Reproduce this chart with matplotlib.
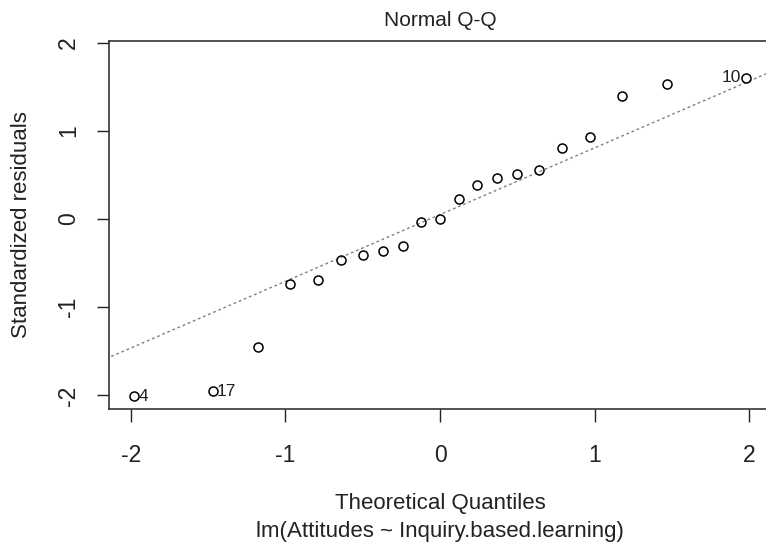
import matplotlib
matplotlib.use("Agg")
import matplotlib.pyplot as plt
import numpy as np

plt.rcParams['font.family'] = ['Liberation Sans', 'DejaVu Sans']
plt.rcParams['axes.unicode_minus'] = False

# Theoretical quantiles and standardized residuals
theo_q = [-1.98, -1.47, -1.18, -0.97, -0.79, -0.64, -0.50, -0.37, -0.24, -0.12, 0.00,
          0.12, 0.24, 0.37, 0.50, 0.64, 0.79, 0.97, 1.18, 1.47, 1.98]
std_resid = [-2.01, -1.95, -1.45, -0.74, -0.69, -0.46, -0.41, -0.36, -0.31, -0.03, -0.00,
             0.23, 0.38, 0.46, 0.51, 0.56, 0.81, 0.93, 1.40, 1.53, 1.60]
# observation ids of the three labelled points
labels = {0: '4', 1: '17', 20: '10'}

W, H = 766, 544
fig = plt.figure(figsize=(W / 100, H / 100), dpi=100)
# axes box in pixels: left 109, top 41, bottom 409, right runs off the image
ax = fig.add_axes([109 / W, 1 - 409 / H, 662 / W, 368 / H])

x = np.array(theo_q)
y = np.array(std_resid)

# qq-line through the quartiles, as R does
q1, q3 = np.quantile(y, [0.25, 0.75])
z = 0.6745
slope = (q3 - q1) / (2 * z)
icpt = q1 + slope * z
xl = np.array([-3, 3])
ax.plot(xl, icpt + slope * xl, color='#808080', lw=1.0, ls=(0, (2, 2)), zorder=1)

ax.plot(x, y, 'o', mfc='none', mec='black', ms=6.5, mew=1.1, zorder=2)

for i, txt in labels.items():
    if i == 20:
        ax.annotate(txt, (x[i], y[i]), xytext=(-3.5, 0), textcoords='offset points',
                    ha='right', va='center', fontsize=12.5, color='#222222')
    else:
        ax.annotate(txt, (x[i], y[i]), xytext=(3, -0.5), textcoords='offset points',
                    ha='left', va='center', fontsize=12.5, color='#222222')

ax.set_xlim(-2.142, 2.142)
ax.set_ylim(-2.154, 2.018)
ax.set_xticks([-2, -1, 0, 1, 2])
ax.set_yticks([-2, -1, 0, 1, 2])
ax.tick_params(axis='both', direction='out', length=9, width=1, labelsize=16.5,
               colors='#222222')
ax.tick_params(axis='x', pad=16)
ax.tick_params(axis='y', pad=12)
for lab in ax.get_yticklabels():
    lab.set_rotation(90)
    lab.set_va('center')
for s in ax.spines.values():
    s.set_color('#333333')
    s.set_linewidth(1.2)

fig.text(440 / W, 1 - 20 / H, 'Normal Q-Q', ha='center', va='center', fontsize=15,
         color='#222222')
fig.text(440 / W, 1 - 504 / H, 'Theoretical Quantiles', ha='center', va='center',
         fontsize=16, color='#222222')
fig.text(440 / W, 1 - 532 / H, 'lm(Attitudes ~ Inquiry.based.learning)', ha='center',
         va='center', fontsize=16, color='#222222')
fig.text(22 / W, 1 - 225 / H, 'Standardized residuals', ha='center', va='center',
         rotation=90, fontsize=16, color='#222222')

fig.savefig('out.png', dpi=100)
